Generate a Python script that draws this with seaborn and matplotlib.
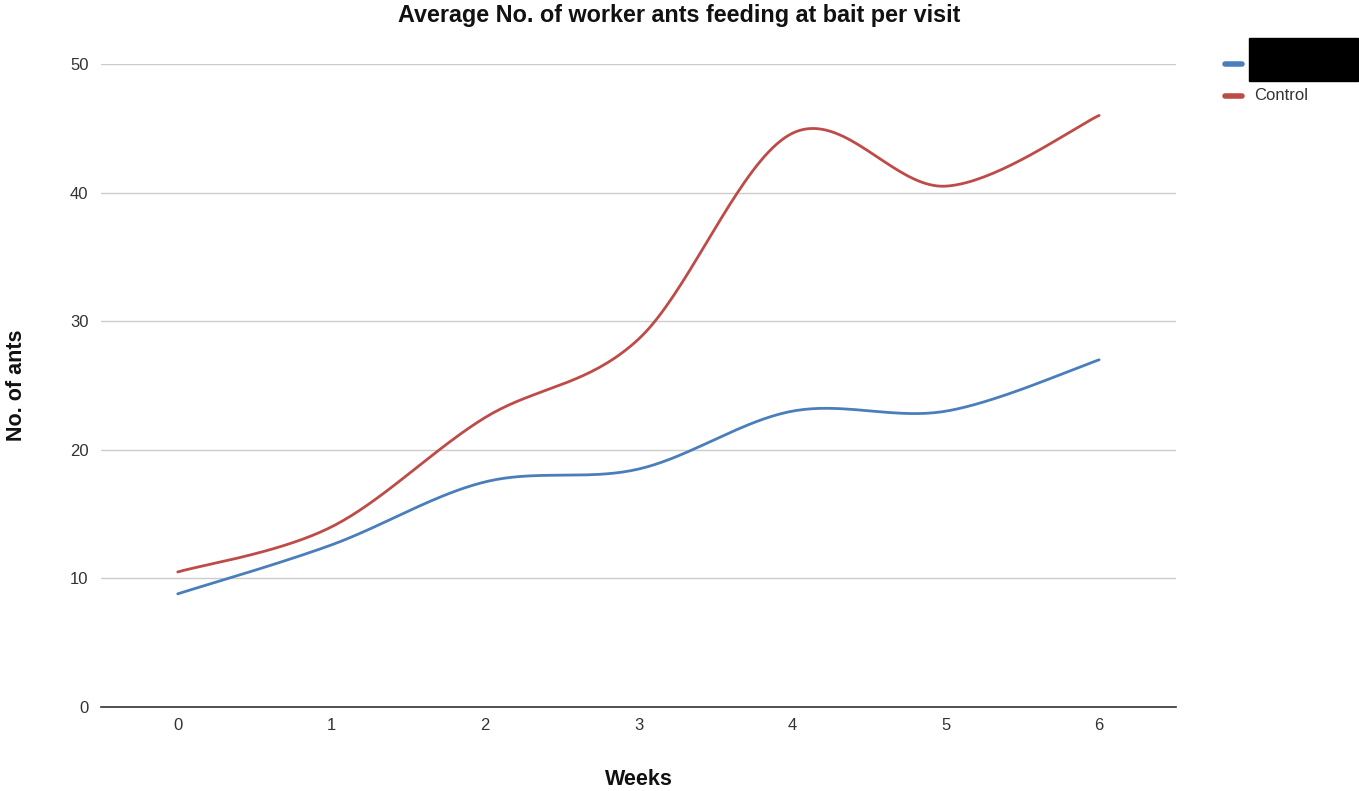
import numpy as np
import pandas as pd
import matplotlib
matplotlib.use("Agg")
import matplotlib.pyplot as plt
import seaborn as sns
from matplotlib.patches import Rectangle

weeks = [0, 1, 2, 3, 4, 5, 6]
treated = [8.8, 12.6, 17.5, 18.5, 23.0, 23.0, 27.0]
control = [10.5, 14.0, 22.5, 28.6, 44.6, 40.5, 46.0]
series_names = ["Treated", "Control"]
colors = ["#4a7ebb", "#be4b48"]


def smooth_curve(x, y, steps=40, k=1 / 6):
    # catmull-rom style bezier smoothing, same look as a "function" curve line
    x = np.asarray(x, float)
    y = np.asarray(y, float)
    n = len(x)
    xs, ys = [], []
    for i in range(n - 1):
        p0 = np.array([x[max(i - 1, 0)], y[max(i - 1, 0)]])
        p1 = np.array([x[i], y[i]])
        p2 = np.array([x[i + 1], y[i + 1]])
        p3 = np.array([x[min(i + 2, n - 1)], y[min(i + 2, n - 1)]])
        c1 = p1 + (p2 - p0) * k
        c2 = p2 - (p3 - p1) * k
        t = np.linspace(0, 1, steps)[:, None]
        pts = ((1 - t) ** 3) * p1 + 3 * ((1 - t) ** 2) * t * c1 + 3 * (1 - t) * t ** 2 * c2 + t ** 3 * p2
        xs.extend(pts[:, 0])
        ys.extend(pts[:, 1])
    return np.array(xs), np.array(ys)


sns.set_theme(style="white")
plt.rcParams["font.family"] = ["Liberation Sans", "DejaVu Sans"]

fig = plt.figure(figsize=(13.59, 7.91), dpi=100)
ax = fig.add_axes([0.0743, 0.1062, 0.7910, 0.8129])

frames = []
for name, vals in zip(series_names, [treated, control]):
    sx, sy = smooth_curve(weeks, vals)
    frames.append(pd.DataFrame({"week": sx, "ants": sy, "series": name}))
df = pd.concat(frames, ignore_index=True)

sns.lineplot(data=df, x="week", y="ants", hue="series", palette=colors, sort=False,
             estimator=None, linewidth=2.0, legend=False, ax=ax, clip_on=False)

ax.set_xlim(-0.5, 6.5)
ax.set_ylim(0, 50)
ax.set_xticks(weeks)
ax.set_yticks([0, 10, 20, 30, 40, 50])
ax.yaxis.grid(True, color="#cccccc", linewidth=1)
ax.xaxis.grid(False)
ax.set_axisbelow(True)
for s in ["top", "right", "left"]:
    ax.spines[s].set_visible(False)
ax.spines["bottom"].set_color("#333333")
ax.spines["bottom"].set_linewidth(1.2)
ax.tick_params(axis="both", length=0, labelsize=12, labelcolor="#333333")
ax.tick_params(axis="x", pad=8)
ax.tick_params(axis="y", pad=9)

ax.set_xlabel("Weeks", fontsize=15.5, fontweight="bold", labelpad=26, color="#111111")
ax.set_ylabel("No. of ants", fontsize=15.5, fontweight="bold", labelpad=31, color="#111111")
fig.suptitle("Average No. of worker ants feeding at bait per visit", fontsize=16.8,
             fontweight="bold", y=0.995, color="#111111")

# legend drawn by hand to match the original layout (first label redacted)
fig.lines.append(plt.Line2D([1225 / 1359, 1242 / 1359], [1 - 64 / 791] * 2, color=colors[0],
                            linewidth=4, transform=fig.transFigure))
fig.lines.append(plt.Line2D([1225 / 1359, 1242 / 1359], [1 - 96 / 791] * 2, color=colors[1],
                            linewidth=4, transform=fig.transFigure))
fig.patches.append(Rectangle((1249 / 1359, 1 - 81 / 791), 109 / 1359, 43 / 791,
                             transform=fig.transFigure, color="black"))
fig.text(1254 / 1359, 1 - 96 / 791, series_names[1], fontsize=12, color="#333333", va="center")

fig.savefig("out.png", dpi=100)
